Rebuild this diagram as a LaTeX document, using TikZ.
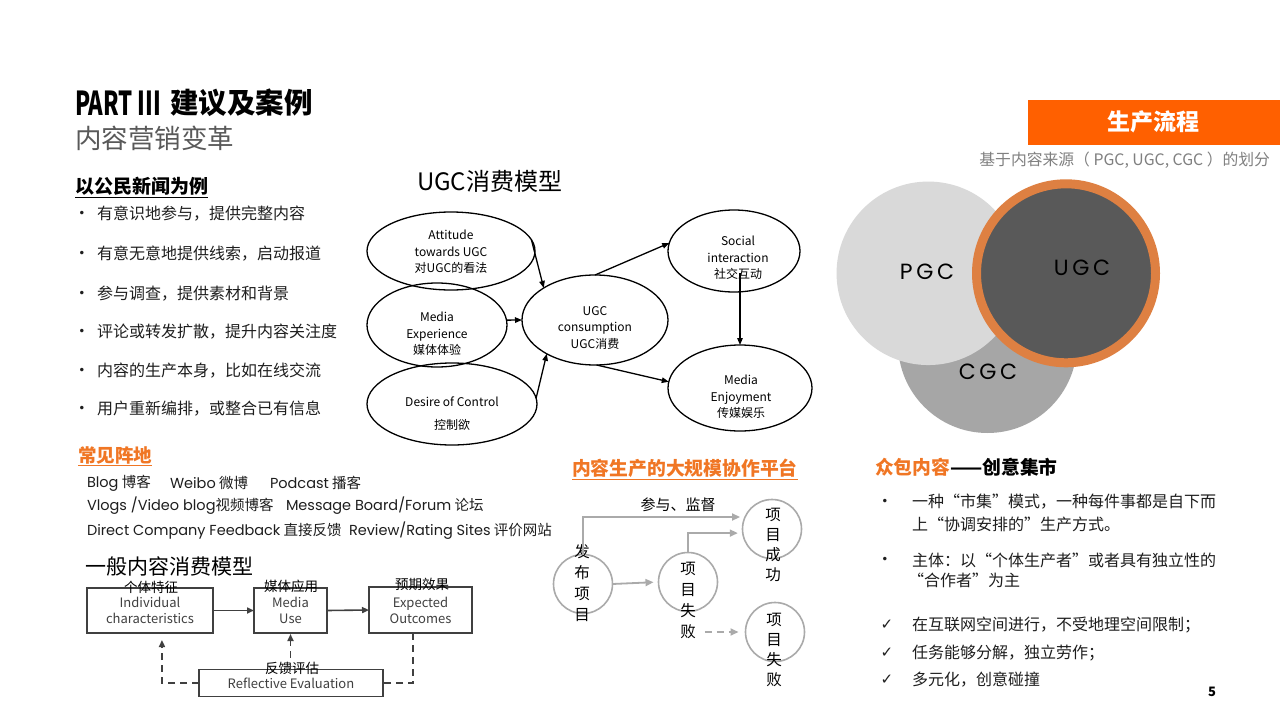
\documentclass[tikz,border=0pt]{standalone}
\usepackage{fontspec}
\setmainfont{Noto Sans CJK SC}
\newfontfamily\geo{Poppins}
\newfontfamily\dv{DejaVu Sans}
\usetikzlibrary{shapes.geometric,arrows.meta}
\definecolor{orgT}{RGB}{240,118,36}
\definecolor{orgBar}{RGB}{255,96,0}
\definecolor{ringC}{RGB}{222,128,66}
\definecolor{txtG}{RGB}{89,89,89}
\definecolor{boxG}{RGB}{64,64,64}
\definecolor{lineG}{RGB}{170,170,170}
\definecolor{pgcF}{RGB}{217,217,217}
\definecolor{cgcF}{RGB}{166,166,166}
\definecolor{ugcF}{RGB}{89,89,89}
\definecolor{subG}{RGB}{128,128,128}
\definecolor{bodyK}{RGB}{30,30,30}
\newcommand\fsz[2]{\fontsize{#1}{#2}\selectfont}
\tikzset{
 every node/.style={inner sep=0pt, outer sep=0pt},
 ell/.style={ellipse, draw=black, line width=1.3pt},
 etxt/.style={align=center, font=\fsz{12}{16.5}, text=black},
 earr/.style={-{Triangle[length=7pt,width=5.5pt]}, line width=1.3pt, black},
 bx/.style={rectangle, draw=boxG, line width=1.6pt, align=center, font=\fsz{13}{16}, text=boxG},
 bxlab/.style={font=\fsz{13.5}{16}, text=black},
 barr/.style={-{Triangle[length=7pt,width=6pt]}, line width=1.6pt, boxG},
 dsh/.style={dash pattern=on 7pt off 5pt, line width=1.6pt, boxG},
 pc/.style={circle, draw=lineG, line width=1.6pt, minimum size=59pt},
 vtxt/.style={align=center, font=\fsz{15.5}{21}, text=black},
 parr/.style={-{Triangle[length=8pt,width=7pt]}, line width=1.8pt, lineG},
 blt/.style={anchor=west, font=\fsz{16}{18}, text=bodyK},
 dotn/.style={font=\dv\fsz{12}{14}, text=bodyK},
 chk/.style={font=\dv\fsz{15}{17}, text=bodyK},
 blog/.style={anchor=west, font=\fsz{14.5}{17}, text=bodyK},
 hd/.style={anchor=west, font=\bfseries\fsz{18.8}{22}},
}
\begin{document}
\begin{tikzpicture}[x=1pt,y=-1pt]
\useasboundingbox[fill=white] (0,0) rectangle (1280,720);

% ---------- title ----------
\node[anchor=west,font=\bfseries\fsz{33}{36},xscale=0.67] (part) at (75,103) {PART III};
\node[anchor=west,font=\bfseries\fsz{28.5}{32}] (titcn) at (170,103) {建议及案例};
\node[anchor=west,font=\fsz{26.5}{30},text=txtG] (subt) at (75,138) {内容营销变革};

% ---------- left list ----------
\node[hd,font=\bfseries\fsz{19}{22}] (h1) at (75,186) {以公民新闻为例};
\draw[line width=1.3pt] ([yshift=-2pt]h1.south west) -- ([yshift=-2pt]h1.south east);
\node[dotn] (d1) at (82,214) {•}; \node[blt] (b1) at (97,214) {有意识地参与，提供完整内容};
\node[dotn] (d2) at (82,254) {•}; \node[blt] (b2) at (97,254) {有意无意地提供线索，启动报道};
\node[dotn] (d3) at (82,294) {•}; \node[blt] (b3) at (97,294) {参与调查，提供素材和背景};
\node[dotn] (d4) at (82,332) {•}; \node[blt] (b4) at (97,332) {评论或转发扩散，提升内容关注度};
\node[dotn] (d5) at (82,371) {•}; \node[blt] (b5) at (97,371) {内容的生产本身，比如在线交流};
\node[dotn] (d6) at (82,409) {•}; \node[blt] (b6) at (97,409) {用户重新编排，或整合已有信息};

% ---------- common platforms ----------
\node[hd,text=orgT,font=\bfseries\fsz{18.5}{22}] (h2) at (78,455) {常见阵地};
\draw[line width=1.3pt,orgT] ([yshift=-2pt]h2.south west) -- ([yshift=-2pt]h2.south east);
\node[blog] (l1a) at (87,483) {{\geo Blog} 博客};
\node[blog] (l1b) at (170,483) {{\geo Weibo} 微博};
\node[blog] (l1c) at (270,483) {{\geo Podcast} 播客};
\node[blog] (l2a) at (87,506) {{\geo Vlogs /Video blog}视频博客};
\node[blog] (l2b) at (286,506) {{\geo Message Board/Forum} 论坛};
\node[blog] (l3a) at (87,531) {{\geo Direct Company Feedback} 直接反馈};
\node[blog] (l3b) at (349,531) {{\geo Review/Rating Sites} 评价网站};

% ---------- general consumption model ----------
\node[anchor=west,font=\fsz{21}{24},text=black] (h3) at (85,566) {一般内容消费模型};
\node[bx,minimum width=126pt,minimum height=45pt] (ind) at (150,610.5) {Individual\\characteristics};
\node[bx,minimum width=73pt,minimum height=45pt] (mu) at (290.5,610.5) {Media\\Use};
\node[bx,minimum width=103pt,minimum height=46pt] (exo) at (420.5,610) {Expected\\Outcomes};
\node[bx,minimum width=184pt,minimum height=27pt] (refl) at (291,683) {Reflective Evaluation};
\node[bxlab] (lind) at (151,587) {个体特征};
\node[bxlab] (lmu) at (291,586) {媒体应用};
\node[bxlab] (lexo) at (422,584) {预期效果};
\node[bxlab] (lref) at (292,668) {反馈评估};
\draw[barr] (ind.east) -- (mu.west);
\draw[barr] (mu.east) -- (exo.west);
\draw[dsh,-{Triangle[length=7pt,width=6pt]},shorten >=7pt] (refl.west) -| (ind.-62);
\draw[dsh,-{Triangle[length=7pt,width=6pt]},shorten >=1pt] (mu.south |- refl.north) -- (mu.south);
\draw[dsh] (exo.-108) |- (refl.east);

% ---------- UGC model ----------
\node[anchor=west,font=\fsz{24}{28},text=black] (h4) at (417,181) {UGC消费模型};
\node[ell,minimum width=168pt,minimum height=78pt] (att) at (451,251) {};
\node[ell,minimum width=140pt,minimum height=84pt] (med) at (437,325) {};
\node[ell,minimum width=170pt,minimum height=82pt] (des) at (452,404) {};
\node[ell,minimum width=146pt,minimum height=90pt] (ugc) at (595,320) {};
\node[ell,minimum width=132pt,minimum height=82pt] (soc) at (734,251) {};
\node[ell,minimum width=144pt,minimum height=86pt] (enj) at (740,388) {};
\node[etxt] (tatt) at (451,252) {Attitude\\towards UGC\\对UGC的看法};
\node[etxt] (tmed) at (437,334) {Media\\Experience\\媒体体验};
\node[etxt,font=\fsz{12}{23}] (tdes) at (452,414) {Desire of Control\\控制欲};
\node[etxt] (tugc) at (595,328) {UGC\\consumption\\UGC消费};
\node[etxt] (tsoc) at (738,258) {Social\\interaction\\社交互动};
\node[etxt] (tenj) at (741,397) {Media\\Enjoyment\\传媒娱乐};
\draw[earr] (att.8) -- (ugc.148);
\draw[earr] (med.4) -- (ugc.180);
\draw[earr] (des.4) -- (ugc.215);
\draw[earr] (ugc.90) -- (soc.173);
\draw[earr] (ugc.-88) -- (enj.175);
\draw[earr] (enj.north |- soc.center) ++(0,22) -- (enj.north);

% ---------- collaboration platform ----------
\node[hd,text=orgT] (h5) at (572,468) {内容生产的大规模协作平台};
\draw[line width=1.3pt,orgT] ([yshift=-2pt]h5.south west) -- ([yshift=-2pt]h5.south east);
\node[pc] (c1) at (583,584) {};
\node[pc] (c2) at (688,582) {};
\node[pc] (c3) at (772,529) {};
\node[pc] (c4) at (775,632) {};
\node[vtxt] (t1) at (582,583) {发\\布\\项\\目};
\node[vtxt] (t2) at (688,600) {项\\目\\失\\败};
\node[vtxt,font=\fsz{15.5}{20}] (t3) at (773,545) {项\\目\\成\\功};
\node[vtxt,font=\fsz{15.5}{20}] (t4) at (774,650) {项\\目\\失\\败};
\draw[parr,shorten >=5pt] (c1.north) |- (c3.156);
\node[font=\fsz{15}{18},text=black] (lpart) at (678,505) {参与、监督};
\draw[parr,shorten >=5pt] (c1.east) -- (c2.west);
\draw[parr,shorten >=5pt] (c2.north) |- (c3.188);
\draw[parr,dash pattern=on 7pt off 5pt,shorten >=7pt] (t2.east |- c4.west) ++(9,0) -- (c4.west);

% ---------- right: production process ----------
\node[fill=orgBar,minimum width=252pt,minimum height=45pt,anchor=north west] (bar) at (1028,100) {};
\node[font=\bfseries\fsz{23}{26},text=white] (bart) at (1153,122) {生产流程};
\node[anchor=east,font=\fsz{15.8}{18},text=subG] (bsub) at (1270,160) {基于内容来源（ PGC, UGC, CGC ）的划分};

\node[circle,fill=cgcF,minimum size=179pt] (cgc) at (987.5,343.5) {};
\node[circle,fill=pgcF,minimum size=183.5pt] (pgc) at (928.3,273.3) {};
\node[circle,fill=ugcF,draw=ringC,line width=9pt,minimum size=179pt] (ugcc) at (1066,273.3) {};
\node[font=\geo\fsz{22}{26},text=black] (lpgc) at (927,272) {P\,G\,C};
\node[font=\geo\fsz{22}{26},text=black] (lugc) at (1082,268) {U\,G\,C};
\node[font=\geo\fsz{22}{26},text=black] (lcgc) at (988,372) {C\,G\,C};

% ---------- right: crowdsourcing ----------
\node[hd] (h6) at (875,467) {\textcolor{orgT}{众包内容}——创意集市};
\node[dotn] (e1) at (885,502) {•};
\node[blt] (r1) at (912,502) {一种“市集”模式，一种每件事都是自下而};
\node[blt] (r2) at (912,524) {上“协调安排的”生产方式。};
\node[dotn] (e2) at (885,560) {•};
\node[blt] (r3) at (912,560) {主体：以“个体生产者”或者具有独立性的};
\node[blt] (r4) at (908,580) {“合作者”为主};
\node[chk] (k1) at (887,625) {✓};
\node[blt] (r5) at (912,625) {在互联网空间进行，不受地理空间限制；};
\node[chk] (k2) at (887,653) {✓};
\node[blt] (r6) at (912,653) {任务能够分解，独立劳作；};
\node[chk] (k3) at (887,680) {✓};
\node[blt] (r7) at (912,680) {多元化，创意碰撞};
\node[font=\bfseries\fsz{13}{15},text=black] (pg) at (1212,692) {5};
\end{tikzpicture}
\end{document}
